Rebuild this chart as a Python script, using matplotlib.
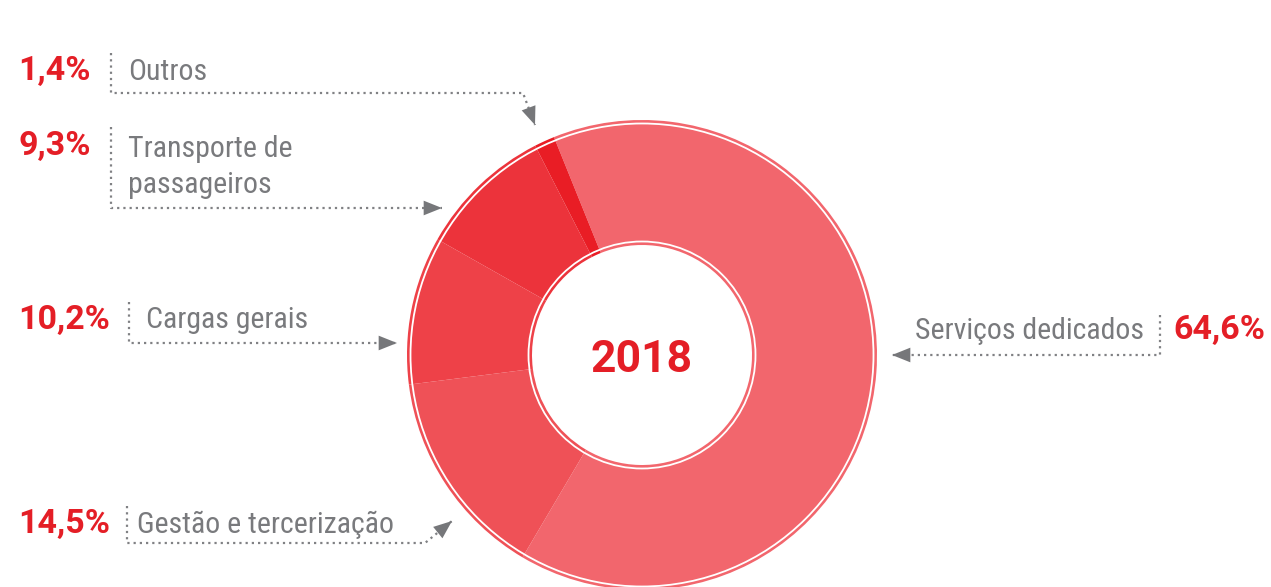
import matplotlib.pyplot as plt
from matplotlib.patches import Circle

# dados do gráfico (2018)
categorias = ["Serviços dedicados", "Gestão e tercerização", "Cargas gerais",
              "Transporte de\npassageiros", "Outros"]
participacao = [64.6, 14.5, 10.2, 9.3, 1.4]
rotulos_pct = ["64,6%", "14,5%", "10,2%", "9,3%", "1,4%"]
cores = ["#F2666D", "#EF5157", "#EE4148", "#EC333B", "#E91D25"]
ano = "2018"

W, H = 1271, 587
CX, CY = 642, 355
R_EXT, R_INT = 235, 110

VERMELHO = "#E41E26"
CINZA_TXT = "#797A7D"
CINZA_LINHA = "#808184"
FONTE = ["Roboto Condensed", "IBM Plex Sans Condensed", "DejaVu Sans"]
FONTE_NUM = ["Roboto", "DejaVu Sans"]

fig = plt.figure(figsize=(W / 100, H / 100), dpi=100)
ax = fig.add_axes([0, 0, 1, 1])

# eixo y invertido (coordenadas em pixels) -> sentido anti-horário nos dados = horário na tela
ax.pie(participacao, colors=cores, center=(CX, CY), radius=R_EXT,
       startangle=-112, counterclock=True,
       wedgeprops=dict(width=R_EXT - R_INT, linewidth=0))
ax.add_patch(Circle((CX, CY), R_EXT - 3.5, fill=False, ec="white", lw=1.3))
ax.add_patch(Circle((CX, CY), R_INT + 3.5, fill=False, ec="white", lw=1.3))

ax.set_xlim(0, W)
ax.set_ylim(H, 0)
ax.set_aspect("equal")
ax.axis("off")

ax.text(CX, 372, ano, ha="center", va="baseline", color=VERMELHO,
        fontsize=32, fontweight="bold", family=FONTE_NUM)

# rótulos: (x texto, baseline da última linha, baseline pct, x pct, alinhamento pct)
pos = [
    (915, 339, 339, 1265, "right"),
    (137, 533, 533, 18, "left"),
    (146, 328, 329, 18, "left"),
    (128, 193, 155, 18, "left"),
    (128, 79.5, 80, 18, "left"),
]
for cat, pct, (xt, yt, yp, xp, ha) in zip(categorias, rotulos_pct, pos):
    ax.text(xt, yt, cat, ha="left", va="baseline", color=CINZA_TXT,
            fontsize=21.5, family=FONTE, linespacing=1.35)
    ax.text(xp, yp, pct, ha=ha, va="baseline", color=VERMELHO,
            fontsize=24.5, fontweight="bold", family=FONTE_NUM)

# linhas pontilhadas com setas
linhas = [
    [(1160, 315), (1160, 355), (892, 355)],
    [(127, 506), (127, 543), (425, 543), (452, 521)],
    [(129, 302), (129, 343), (397, 343)],
    [(111, 127), (111, 208), (442, 208)],
    [(111, 53), (111, 93), (523, 93), (535, 125)],
]
for pts in linhas:
    xs = [p[0] for p in pts]
    ys = [p[1] for p in pts]
    ax.plot(xs, ys, color=CINZA_LINHA, lw=1.6, linestyle=(0, (1, 1.8)))
    ax.annotate("", xy=pts[-1], xytext=pts[-2],
                arrowprops=dict(arrowstyle="-|>,head_length=0.55,head_width=0.22",
                                color="#76777A", lw=0, shrinkA=0, shrinkB=0,
                                mutation_scale=24))

fig.savefig("out.png", dpi=100)
